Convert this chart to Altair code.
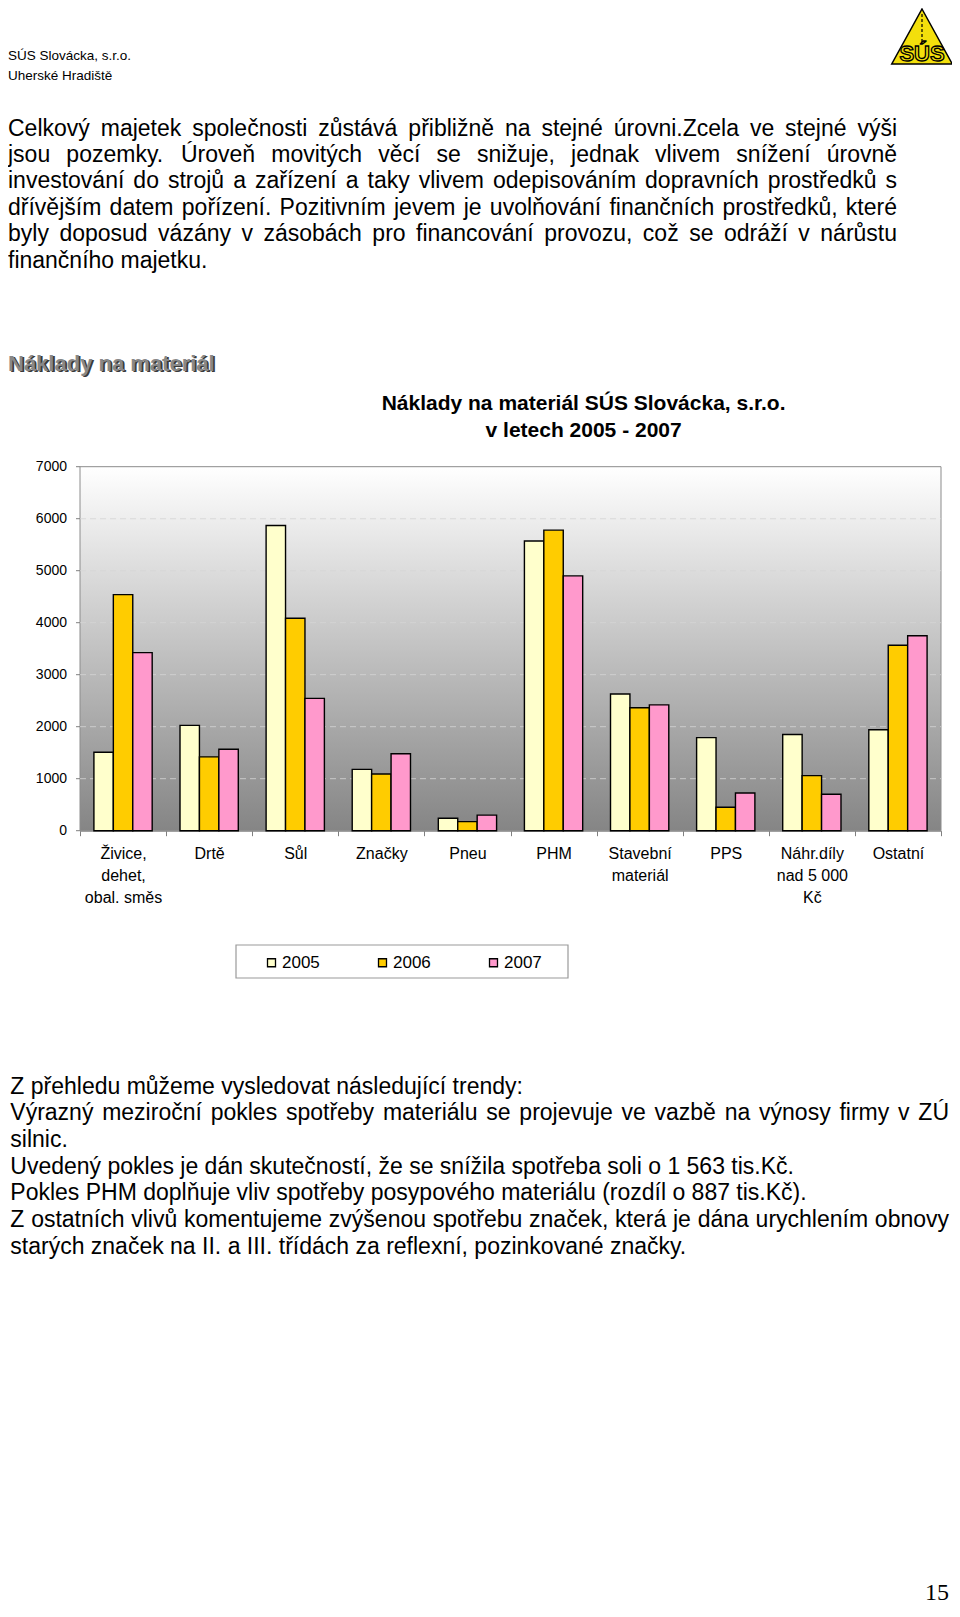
import unicodedata
import altair as alt
import pandas as pd

# ---------------- data ----------------
categories = ["Živice,\ndehet,\nobal. směs", "Drtě", "Sůl", "Značky", "Pneu", "PHM",
              "Stavební\nmateriál", "PPS", "Náhr.díly\nnad 5 000\nKč", "Ostatní"]
years = ["2005", "2006", "2007"]
values_2005 = [1510, 2025, 5870, 1180, 240, 5570, 2630, 1790, 1850, 1940]
values_2006 = [4540, 1420, 4085, 1090, 175, 5780, 2365, 450, 1060, 3565]
values_2007 = [3425, 1565, 2545, 1480, 300, 4900, 2420, 725, 700, 3750]
y_ticks = [0, 1000, 2000, 3000, 4000, 5000, 6000, 7000]
grid_values = [1000, 2000, 3000, 4000, 5000, 6000]
year_colors = ["#FFFFCC", "#FFCC00", "#FF99CC"]

header_lines = ["SÚS Slovácka, s.r.o.", " Uherské Hradiště"]
intro_lines = [
    "Celkový majetek společnosti zůstává přibližně na stejné úrovni.Zcela ve stejné výši",
    "jsou pozemky. Úroveň movitých věcí se snižuje, jednak vlivem snížení úrovně",
    "investování do strojů a zařízení a taky vlivem odepisováním dopravních prostředků s",
    "dřívějším datem pořízení. Pozitivním jevem je uvolňování finančních prostředků, které",
    "byly doposud vázány v zásobách pro financování provozu, což se odráží v nárůstu",
    "finančního majetku.",
]
intro_justified = [True, True, True, True, True, False]
section_title = "Náklady na materiál"
chart_title = ["Náklady na materiál SÚS Slovácka, s.r.o.", "v letech 2005 - 2007"]
summary_lines = [
    "Z přehledu můžeme vysledovat následující trendy:",
    "Výrazný meziroční pokles spotřeby materiálu se projevuje ve vazbě na výnosy firmy v ZÚ",
    "silnic.",
    "Uvedený pokles je dán skutečností, že se snížila spotřeba soli o 1 563 tis.Kč.",
    "Pokles PHM doplňuje vliv spotřeby posypového materiálu (rozdíl o 887 tis.Kč).",
    "Z ostatních vlivů komentujeme zvýšenou spotřebu značek, která je dána urychlením obnovy",
    "starých značek na II. a III. třídách za reflexní, pozinkované značky.",
]
summary_justified = [False, True, False, False, False, True, False]
page_number = "15"
logo_text = "SÚS"

# ---------------- layout ----------------
W, H = 944, 1601
PX0, PX1 = 72, 933          # plot area (group coords)
PY0, PY1 = 458.7, 822.7
FONT = "Liberation Sans"
BODY = 23

# Arial / Liberation Sans advance widths (1/1000 em) for word placement
_W = {' ': 278, '(': 333, ')': 333, ',': 278, '-': 333, '.': 278, ':': 278, ';': 278}
_W.update({d: 556 for d in "0123456789"})
_W.update(dict(zip("ABCDEFGHIJKLMNOPQRSTUVWXYZ",
                   [667, 667, 722, 722, 667, 611, 778, 722, 278, 500, 667, 556, 833,
                    722, 778, 667, 778, 722, 667, 611, 722, 667, 944, 667, 667, 611])))
_W.update(dict(zip("abcdefghijklmnopqrstuvwxyz",
                   [556, 556, 500, 556, 556, 278, 556, 556, 222, 222, 500, 222, 833,
                    556, 556, 556, 556, 333, 500, 278, 556, 500, 722, 500, 500, 500])))
_SPECIAL = {'í': 278, 'ď': 615, 'ť': 375}


def text_width(s, fs):
    tot = 0
    for ch in s:
        if ch in _SPECIAL:
            tot += _SPECIAL[ch]
        else:
            base = unicodedata.normalize("NFD", ch)[0]
            tot += _W.get(base, 556)
    return tot * fs / 1000.0


def word_rows(lines, justified, x0, x1, y0, lh, fs):
    out = []
    space = text_width(" ", fs)
    for i, (line, just) in enumerate(zip(lines, justified)):
        words = line.split(" ")
        widths = [text_width(w, fs) for w in words]
        gap = space
        if just and len(words) > 1:
            gap = (x1 - x0 - sum(widths)) / (len(words) - 1)
        x = x0
        for w, wd in zip(words, widths):
            out.append({"word": w, "px": x, "py": y0 + i * lh})
            x += wd + gap
    return pd.DataFrame(out)


rows = []
for cat, a, b, c in zip(categories, values_2005, values_2006, values_2007):
    for yr, v in zip(years, (a, b, c)):
        rows.append({"cat": cat, "year": yr, "value": v})
bars_df = pd.DataFrame(rows)
one = pd.DataFrame({"k": [0]})


def text_layer(lines, x, y, size, lh=None, **kw):
    props = dict(align="left", baseline="alphabetic", font=FONT, fontSize=size, color="black")
    if lh is not None:
        props["lineHeight"] = lh
    props.update(kw)
    return alt.Chart(one).mark_text(**props).encode(
        x=alt.value(x), y=alt.value(y), text=alt.value(lines))


def words_layer(df, fs):
    return alt.Chart(df).mark_text(
        align="left", baseline="alphabetic", font=FONT, fontSize=fs, color="black"
    ).encode(x=alt.X("px:Q", scale=None, axis=None),
             y=alt.Y("py:Q", scale=None, axis=None),
             text="word:N")


header = text_layer(header_lines, 0, 52, 13.5, 20)
intro = words_layer(word_rows(intro_lines, intro_justified, 0, 889, 127.6, 26.4, BODY), BODY)
heading_shadow = text_layer(section_title, 1.8, 364.3, 22, fontWeight="bold", color="#3a3a3a")
heading = text_layer(section_title, 0, 362.5, 22, fontWeight="bold", color="#888888")
title = text_layer(chart_title, 575.6, 401.5, 21, 27.5, fontWeight="bold", align="center")
summary = words_layer(word_rows(summary_lines, summary_justified, 2.3, 941, 1085.6, 26.65, BODY), BODY)
page = text_layer(page_number, 941, 1592, 24, font="Liberation Serif", align="right")

# logo
logo_tri = alt.Chart(one).mark_point(
    shape="M0,-1L1.1,1L-1.1,1Z", size=55 * 55, filled=True, fill="#F3DF0C",
    stroke="black", strokeWidth=1.5, opacity=1
).encode(x=alt.value(914), y=alt.value(28.5))
logo_line = alt.Chart(one).mark_rule(color="black", strokeWidth=1.2, strokeDash=[3, 2]).encode(
    x=alt.value(914), y=alt.value(6), y2=alt.value(34))
logo_txt = text_layer(logo_text, 914, 53, 22, fontWeight="bold", align="center",
                      color="#F3DF0C", stroke="black", strokeWidth=1.3)

# plot background with gradient
bg = alt.Chart(one).mark_rect(
    fill=alt.LinearGradient(
        gradient="linear",
        stops=[alt.GradientStop(color="#ffffff", offset=0),
               alt.GradientStop(color="#858585", offset=1)],
        x1=0, x2=0, y1=0, y2=1),
    stroke="#8c8c8c", strokeWidth=1
).encode(x=alt.value(PX0), x2=alt.value(PX1), y=alt.value(PY0), y2=alt.value(PY1))

yscale = alt.Scale(domain=[0, 7000], range=[PY1, PY0])

grid = alt.Chart(pd.DataFrame({"g": grid_values})).mark_rule(
    color="#d4d4d4", strokeWidth=1, strokeDash=[6, 4], opacity=0.8
).encode(y=alt.Y("g:Q", scale=yscale, axis=None),
         x=alt.value(PX0), x2=alt.value(PX1))

ticks_df = pd.DataFrame({"t": y_ticks})
y_tick_marks = alt.Chart(ticks_df).mark_rule(color="#808080", strokeWidth=1).encode(
    y=alt.Y("t:Q", scale=yscale, axis=None), x=alt.value(PX0 - 4), x2=alt.value(PX0))
y_tick_labels = alt.Chart(ticks_df).mark_text(
    align="right", baseline="middle", font=FONT, fontSize=14, color="black"
).encode(y=alt.Y("t:Q", scale=yscale, axis=None), x=alt.value(PX0 - 13),
         text=alt.Text("t:Q", format="d"))

bars = alt.Chart(bars_df).mark_bar(stroke="black", strokeWidth=1.4).encode(
    x=alt.X("cat:N", sort=categories, title=None,
            scale=alt.Scale(range=[PX0, PX1], paddingInner=0, paddingOuter=0),
            axis=alt.Axis(orient="bottom", offset=-(H - PY1), labelAngle=0,
                          labelExpr="split(datum.label, '\\n')",
                          labelFont=FONT, labelFontSize=16, labelLineHeight=22,
                          labelColor="black", labelPadding=10, tickBand="extent",
                          tickSize=5, tickColor="#808080", domainColor="#808080",
                          labelBaseline="top", grid=False)),
    xOffset=alt.XOffset("year:N", sort=years,
                        scale=alt.Scale(paddingInner=0, paddingOuter=0.716)),
    y=alt.Y("value:Q", scale=yscale, axis=None),
    color=alt.Color("year:N", sort=years,
                    scale=alt.Scale(domain=years, range=year_colors),
                    legend=alt.Legend(orient="none", legendX=255, legendY=946,
                                      direction="horizontal", title=None,
                                      symbolType="square", symbolSize=64,
                                      symbolStrokeColor="black", symbolStrokeWidth=1.3,
                                      labelFont=FONT, labelFontSize=17, labelColor="black",
                                      labelOffset=2, columnPadding=54, padding=0)),
)

legend_box = alt.Chart(one).mark_rect(fill="white", stroke="#9a9a9a", strokeWidth=1.2).encode(
    x=alt.value(228), x2=alt.value(560), y=alt.value(937), y2=alt.value(970))

chart = alt.layer(
    header, intro, heading_shadow, heading, title, summary, page,
    logo_tri, logo_line, logo_txt,
    bg, grid, y_tick_marks, y_tick_labels, bars, legend_box,
).properties(
    width=W, height=H, autosize=alt.AutoSizeParams(type="none"), padding=0,
    background="white"
).configure_view(strokeWidth=0)

chart.save("out.html", embed_options={"renderer": "svg", "actions": False})
